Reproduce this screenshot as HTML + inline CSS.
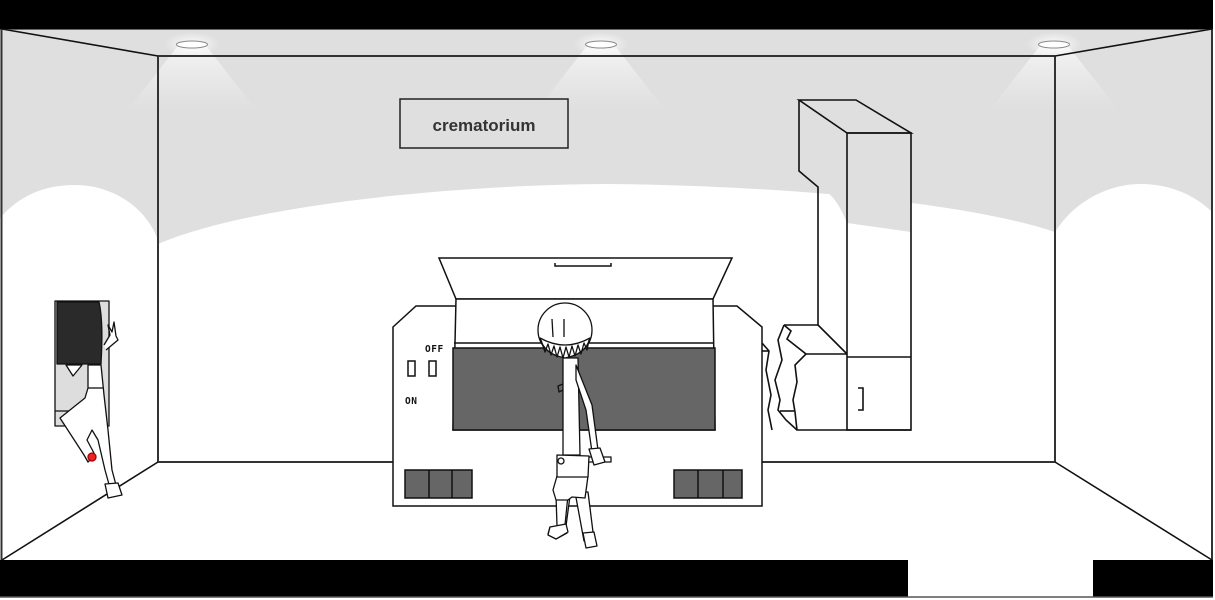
<!DOCTYPE html>
<html><head><meta charset="utf-8"><style>
html,body{margin:0;padding:0;background:#fff;}
svg{display:block;}
</style></head><body>
<svg width="1215" height="600" viewBox="0 0 1215 600" xmlns="http://www.w3.org/2000/svg">
<defs>
<linearGradient id="cone" x1="0" y1="0" x2="0" y2="1">
<stop offset="0" stop-color="#f6f6f6" stop-opacity="0.9"/>
<stop offset="1" stop-color="#f0f0f0" stop-opacity="0"/>
</linearGradient>
<radialGradient id="glow" cx="0.5" cy="0.5" r="0.5">
<stop offset="0" stop-color="#ffffff" stop-opacity="0.9"/>
<stop offset="1" stop-color="#ffffff" stop-opacity="0"/>
</radialGradient>
</defs>
<rect x="0" y="0" width="1215" height="600" fill="#fff"/>
<rect x="0" y="29" width="1213" height="531" fill="#dfdfdf"/>
<!-- white walls -->
<path d="M0,218 C 20,195 45,185 75,185 C 110,185 145,205 158,240 L158,560 L0,560 Z" fill="#fff"/>
<path d="M158,244 C 250,205 450,185 606,184 C 760,185 960,200 1055,232 L1055,560 L158,560 Z" fill="#fff"/>
<path d="M1055,232 C 1075,200 1110,184 1140,184 C 1170,184 1195,195 1213,213 L1213,560 L1055,560 Z" fill="#fff"/>
<!-- light cones -->
<polygon points="177,47 207,47 257,111 127,111" fill="url(#cone)"/>
<polygon points="586,47 616,47 666,111 536,111" fill="url(#cone)"/>
<polygon points="1039,47 1069,47 1119,111 989,111" fill="url(#cone)"/>
<ellipse cx="192" cy="44" rx="28" ry="12" fill="url(#glow)"/>
<ellipse cx="601" cy="44" rx="28" ry="12" fill="url(#glow)"/>
<ellipse cx="1054" cy="44" rx="28" ry="12" fill="url(#glow)"/>
<ellipse cx="192" cy="44.5" rx="15.5" ry="3.5" fill="#fff" stroke="#888" stroke-width="1"/>
<ellipse cx="601" cy="44.5" rx="15.5" ry="3.5" fill="#fff" stroke="#888" stroke-width="1"/>
<ellipse cx="1054" cy="44.5" rx="15.5" ry="3.5" fill="#fff" stroke="#888" stroke-width="1"/>
<!-- top/bottom black -->
<rect x="0" y="0" width="1213" height="29" fill="#000"/>
<line x1="0" y1="29.5" x2="1213" y2="29.5" stroke="#666" stroke-width="1"/>
<rect x="0" y="560" width="908" height="37" fill="#000"/>
<rect x="1093" y="560" width="120" height="37" fill="#000"/>
<line x1="0" y1="597" x2="1213" y2="597" stroke="#555" stroke-width="1.5"/>
<!-- room lines -->
<g stroke="#333" stroke-width="2" fill="none">
<line x1="1.5" y1="29" x2="1.5" y2="560"/>
<line x1="1212" y1="29" x2="1212" y2="560"/>
<line x1="158" y1="56" x2="1055" y2="56"/>
<line x1="158" y1="56" x2="158" y2="462"/>
<line x1="1055" y1="56" x2="1055" y2="462"/>
<line x1="158" y1="462" x2="1055" y2="462"/>
</g>
<g stroke="#111" stroke-width="1.6" fill="none">
<line x1="2" y1="29" x2="158" y2="56"/>
<line x1="1055" y1="56" x2="1212" y2="29"/>
<line x1="158" y1="462" x2="2" y2="560"/>
<line x1="1055" y1="462" x2="1212" y2="560"/>
</g>
<!-- sign -->
<rect x="400" y="99" width="168" height="49" fill="#dfdfdf" stroke="#222" stroke-width="1.5"/>
<text x="484" y="131" font-family="Liberation Sans, sans-serif" font-weight="bold" font-size="17" fill="#333" text-anchor="middle">crematorium</text>
<!-- chimney -->
<g stroke="#111" stroke-width="1.6" fill="none" stroke-linejoin="miter">
<polygon points="847,133 911,133 911,232 847,223" fill="#dfdfdf" stroke="none"/>
<path d="M818,188 C 830,190 840,205 847,223 L847,133 L799,103 L799,171 L818,188 Z" fill="#dfdfdf" stroke="none"/>
<polygon points="799,100 856,100 911,133 847,133" fill="#dfdfdf"/>
<polyline points="799,100 799,171 818,187 818,325 847,354"/>
<rect x="847" y="133" width="64" height="297"/>
<line x1="847" y1="357" x2="911" y2="357"/>
<polyline points="784,325 818,325"/>
<polyline points="806,354 847,354"/>
<polyline points="858,388 863,388 863,410 858,410"/>
<polyline points="784,325 791,331 787,339 806,354 795,365 797,382 793,400 795,412 797,430 911,430"/>
<polyline points="784,325 778,340 782,360 775,380 780,400 778,410 786,420 797,430"/>
<line x1="780" y1="411" x2="794" y2="411"/>
<polyline points="762,343 769,351 766,370 771,395 768,410 772,430"/>
<line x1="762" y1="351" x2="769" y2="351"/>
</g>
<!-- machine -->
<g stroke="#111" stroke-width="1.5" fill="#fff">
<polygon points="393,327 416,306 737,306 762,327 762,506 393,506"/>
<polygon points="439,258 732,258 713,299 456,299"/>
<polygon points="456,299 713,299 715,430 453,430"/>
<rect x="453" y="348" width="262" height="82" fill="#666"/>
<line x1="454" y1="343" x2="714" y2="343"/>
<polyline points="555,263 555,266 611,266 611,263" fill="none"/>
<rect x="408" y="361" width="7" height="15"/>
<rect x="429" y="361" width="7" height="15"/>
<rect x="405" y="470" width="67" height="28" fill="#666"/>
<line x1="429" y1="470" x2="429" y2="498"/>
<line x1="452" y1="470" x2="452" y2="498"/>
<rect x="674" y="470" width="68" height="28" fill="#666"/>
<line x1="698" y1="470" x2="698" y2="498"/>
<line x1="723" y1="470" x2="723" y2="498"/>
</g>
<text x="425" y="352" font-family="DejaVu Sans Mono, monospace" font-weight="bold" font-size="9.5" fill="#111" letter-spacing="0.5">OFF</text>
<text x="405" y="404" font-family="DejaVu Sans Mono, monospace" font-weight="bold" font-size="9.5" fill="#111" letter-spacing="0.5">ON</text>
<!-- main character -->
<g stroke="#111" stroke-width="1.3" fill="#fff" stroke-linejoin="round">
<!-- legs -->
<polygon points="558,496 570,496 566,526 564,530 550,527 548,534 556,539 567,533 560,528"/>
<polygon points="556,495 568,495 565,525 557,526"/>
<polygon points="550,527 566,524 568,532 556,539 548,535"/>
<polygon points="575,492 588,492 594,540 584,541"/>
<polygon points="583,533 594,532 597,546 586,548"/>
<!-- skirt -->
<polygon points="557,476 588,476 585,498 572,497 568,500 556,500 553,490"/>
<!-- body -->
<polygon points="563,358 578,358 580,455 563,455"/>
<polyline points="563,384 558,386 559,392 563,390" fill="none"/>
<!-- arm -->
<polygon points="576,365 592,405 598,450 592,452 586,410 576,380"/>
<rect x="580" y="457" width="31" height="5"/>
<polygon points="589,449 600,448 605,462 594,465"/>
<!-- belt -->
<polygon points="557,455 589,456 588,477 557,477"/>
<circle cx="561" cy="461" r="3"/>
<!-- head -->
<circle cx="565" cy="330" r="27"/>
<path d="M540,338 Q565,352 590,338 Q586,354 565,358 Q544,354 540,338 Z" fill="#fff"/>
<polyline fill="none" points="541,340 545,352 548,344 551,355 554,346 557,357 560,347 563,358 566,347 569,357 572,346 575,356 578,345 581,354 584,343 587,350 589,340"/>
<line x1="552" y1="319" x2="553" y2="337"/>
<line x1="564" y1="319" x2="564" y2="337"/>
</g>
<!-- left figure -->
<g stroke="#111" stroke-width="1.3" stroke-linejoin="round">
<rect x="55" y="301" width="54" height="125" fill="#ddd"/>
<line x1="55" y1="411" x2="76" y2="411"/>
<path d="M57,302 L99,302 C 103,320 102,345 101,364 L57,364 Z" fill="#2a2a2a"/>
<polygon points="66,365 82,365 73,376" fill="#fff"/>
<polyline points="104,345 110,335 108,325 112,332 114,322 116,336 118,340 106,350" fill="#fff"/>
<path d="M88,365 L101,365 L104,395 L108,430 L112,470 L116,485 L110,488 L105,470 L98,440 L92,430 L87,440 L95,455 L88,462 L84,455 L60,418 L70,410 L85,398 L88,388 Z" fill="#fff"/>
<line x1="88" y1="388" x2="103" y2="388" fill="none"/>
<polygon points="105,484 118,483 122,495 108,498" fill="#fff"/>
<circle cx="92" cy="457" r="4" fill="#e22" stroke="#a00"/>
</g>
</svg>
</body></html>
